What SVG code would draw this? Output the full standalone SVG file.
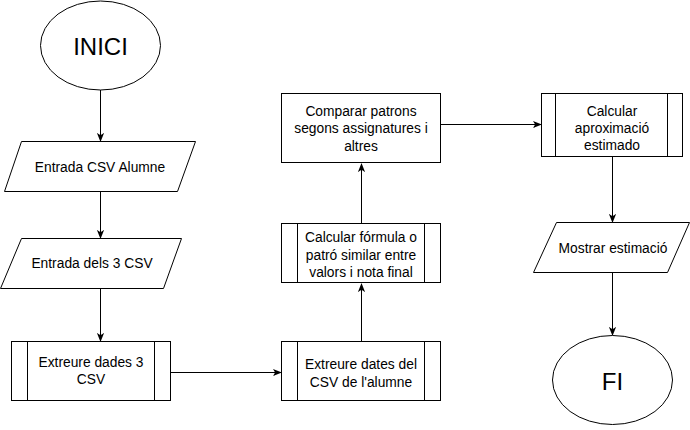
<svg xmlns="http://www.w3.org/2000/svg" width="690" height="430" viewBox="0 0 690 430">
<defs>
<marker id="arr" viewBox="0 0 10 10" refX="9" refY="5" markerWidth="9" markerHeight="9" markerUnits="userSpaceOnUse" orient="auto">
<path d="M0,1 L10,5 L0,9 L2.5,5 Z" fill="#000"/>
</marker>
</defs>
<style>
.s{fill:#fff;stroke:#000;stroke-width:1}
.l{fill:none;stroke:#000;stroke-width:1}
.t{font-family:"Liberation Sans",Arial,sans-serif;font-size:13.8px;fill:#000;text-anchor:middle;dominant-baseline:central}
.b{font-family:"Liberation Sans",Arial,sans-serif;font-size:24px;fill:#000;text-anchor:middle;dominant-baseline:central}
.c{fill:none;stroke:#000;stroke-width:1;marker-end:url(#arr)}
</style>
<rect width="690" height="430" fill="#fff"/>
<g id="connectors">
<path class="c" d="M100.5,90 V141"/>
<path class="c" d="M100.5,192 V238"/>
<path class="c" d="M100.5,288 V341"/>
<path class="c" d="M170,372.5 H281"/>
<path class="c" d="M361.5,341 V284"/>
<path class="c" d="M361.5,223 V164"/>
<path class="c" d="M441,124.5 H541"/>
<path class="c" d="M612.5,157 V222"/>
<path class="c" d="M612.5,272 V335"/>
</g>
<g id="inici">
<ellipse class="s" cx="100.5" cy="45.5" rx="60" ry="44.5"/>
<text class="b" x="100.5" y="46">INICI</text>
</g>
<g id="entrada_alumne">
<polygon class="s" points="21.5,141.5 195.5,141.5 177.5,191.5 4.5,191.5"/>
<text class="t" x="100" y="167">Entrada CSV Alumne</text>
</g>
<g id="entrada_3csv">
<polygon class="s" points="21.5,238.5 181.5,238.5 163.5,288.5 0.5,288.5"/>
<text class="t" x="92" y="263">Entrada dels 3 CSV</text>
</g>
<g id="extreure_dades">
<rect class="s" x="11.5" y="341.5" width="159" height="59"/>
<path class="l" d="M27.5,341.5 V400.5 M154.5,341.5 V400.5"/>
<text class="t" x="91" y="362">Extreure dades 3</text>
<text class="t" x="91" y="379">CSV</text>
</g>
<g id="extreure_dates">
<rect class="s" x="281.5" y="341.5" width="159" height="59"/>
<path class="l" d="M297.5,341.5 V400.5 M424.5,341.5 V400.5"/>
<text class="t" x="361" y="364">Extreure dates del</text>
<text class="t" x="361" y="382">CSV de l'alumne</text>
</g>
<g id="calcular_formula">
<rect class="s" x="281.5" y="223.5" width="159" height="59"/>
<path class="l" d="M297.5,223.5 V282.5 M424.5,223.5 V282.5"/>
<text class="t" x="361" y="237">Calcular fórmula o</text>
<text class="t" x="361" y="255">patró similar entre</text>
<text class="t" x="361" y="272">valors i nota final</text>
</g>
<g id="comparar">
<rect class="s" x="281.5" y="93.5" width="159" height="69"/>
<text class="t" x="361" y="111">Comparar patrons</text>
<text class="t" x="361" y="128.5">segons assignatures i</text>
<text class="t" x="361" y="146">altres</text>
</g>
<g id="calcular_aprox">
<rect class="s" x="541.5" y="93.5" width="141" height="63"/>
<path class="l" d="M555.5,93.5 V156.5 M667.5,93.5 V156.5"/>
<text class="t" x="612" y="111">Calcular</text>
<text class="t" x="612" y="128">aproximació</text>
<text class="t" x="612" y="145">estimado</text>
</g>
<g id="mostrar">
<polygon class="s" points="556.5,222.5 689.5,222.5 667.5,272.5 533.5,272.5"/>
<text class="t" x="613" y="248">Mostrar estimació</text>
</g>
<g id="fi">
<ellipse class="s" cx="612.5" cy="380" rx="60" ry="44.5"/>
<text class="b" x="612.5" y="381">FI</text>
</g>
</svg>
